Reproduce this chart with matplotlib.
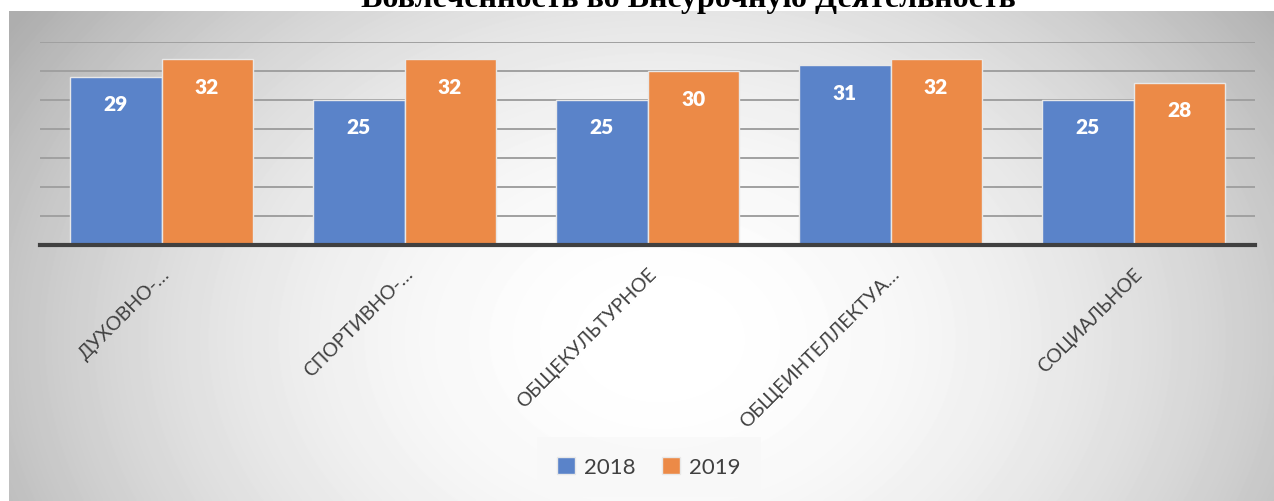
import numpy as np
import matplotlib.pyplot as plt

# Данные
kategorii = ['ДУХОВНО-…', 'СПОРТИВНО-…', 'ОБЩЕКУЛЬТУРНОЕ', 'ОБЩЕИНТЕЛЛЕКТУА…', 'СОЦИАЛЬНОЕ']
god_2018 = [29, 25, 25, 31, 25]
god_2019 = [32, 32, 30, 32, 28]
serii = ['2018', '2019']
zagolovok = 'Вовлеченность во Внеурочную Деятельность'

plt.rcParams['font.family'] = ['Lato', 'DejaVu Sans']

W, H = 1274, 502
fig = plt.figure(figsize=(W / 100, H / 100), dpi=100, facecolor='white')

# фон с радиальным градиентом
bg = fig.add_axes([9 / W, 0, 1 - 9 / W, (H - 12) / H], zorder=-5)
yy, xx = np.mgrid[0:490, 0:1265]
dx = (xx + 9 - 660) / 640
dy = (yy + 12 - 340) / 480
r = np.clip(np.sqrt(dx ** 2 + dy ** 2), 0, 1.2)
val = 1.0 - 0.22 * r ** 2
bg.imshow(val, cmap='gray', vmin=0, vmax=1, aspect='auto', interpolation='bilinear')
bg.axis('off')

ax = fig.add_axes([40 / W, 1 - 246 / H, 1215 / W, 203 / H])
ax.patch.set_alpha(0)

x = np.arange(len(kategorii))
w = 0.375
b1 = ax.bar(x - w / 2, god_2018, w, color='#5a83c9', edgecolor='#e8e8e8', linewidth=1, label=serii[0], zorder=3)
b2 = ax.bar(x + w / 2, god_2019, w, color='#ec8a47', edgecolor='#e8e8e8', linewidth=1, label=serii[1], zorder=3)

for bars in (b1, b2):
    for b in bars:
        ax.annotate(str(int(b.get_height())), (b.get_x() + b.get_width() / 2, b.get_height()),
                    xytext=(0, -27), textcoords='offset pixels', ha='center', va='center',
                    color='white', fontsize=15, fontweight='heavy', zorder=4)

ax.set_xlim(-0.5, len(kategorii) - 0.5)
ax.set_ylim(0, 35)
ax.set_yticks(np.arange(5, 36, 5))
ax.yaxis.grid(True, color='#a0a0a0', linewidth=1.4, zorder=1)
ax.tick_params(axis='y', left=False, labelleft=False)
ax.tick_params(axis='x', length=0, pad=14)
ax.set_xticks(x)
ax.set_xticklabels(kategorii, rotation=45, ha='right', rotation_mode='anchor',
                   fontsize=14, color='#404040')
for s in ['top', 'right', 'left']:
    ax.spines[s].set_visible(False)
ax.spines['bottom'].set_color('#404040')
ax.spines['bottom'].set_linewidth(3)
ax.spines['bottom'].set_zorder(5)

fig.text(688 / W, 1 - 7 / H, zagolovok, ha='center', va='baseline',
         fontsize=23, fontweight='bold', family='Liberation Serif', color='black')

leg = fig.legend(handles=[b1, b2], labels=serii, loc='center', ncol=2,
                 bbox_to_anchor=(649 / W, 1 - 468 / H), fontsize=16,
                 handlelength=0.8, handleheight=0.8, columnspacing=1.2,
                 handletextpad=0.4, borderpad=0.9, frameon=True, fancybox=False)
leg.get_frame().set_facecolor('#f8f8f8')
leg.get_frame().set_edgecolor('none')
for t in leg.get_texts():
    t.set_color('#404040')

fig.savefig('out.png', dpi=100)
